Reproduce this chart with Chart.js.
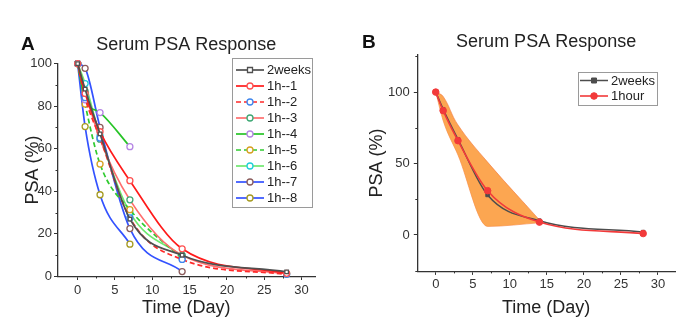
<!DOCTYPE html>
<html><head><meta charset="utf-8">
<script src="https://cdn.jsdelivr.net/npm/chart.js@4.4.1/dist/chart.umd.min.js"></script>
<style>
html,body{margin:0;padding:0;background:#fff;width:700px;height:333px;overflow:hidden}
#wrapA{position:absolute;left:0;top:0;width:350px;height:333px}
#wrapB{position:absolute;left:350px;top:0;width:350px;height:333px}
.panel{position:absolute;font:bold 19px "Liberation Sans",Arial,sans-serif;color:#111;line-height:19px}
</style></head><body>
<div id="wrapA"><canvas id="cA" width="350" height="333"></canvas></div>
<div id="wrapB"><canvas id="cB" width="350" height="333"></canvas></div>
<div class="panel" style="left:21px;top:34px">A</div>
<div class="panel" style="left:362px;top:32px">B</div>
<script>
// ---------- Panel A data ----------
const daysA    = [0, 1, 3, 7, 14, 28];
const psa2weeks = [100, 88, 67, 27, 10, 2.2];
const psa1h1   = [100, 86, 68, 45, 13, 1.5];
const psa1h2   = [100, 84, 65, 27.5, 8, 1];
const psa1h3   = [100, 87, 64.5, 36, 10, 1.3];
const days1h4  = [0, 1, 3, 7];
const psa1h4   = [100, 83, 77, 61];
const days1h5  = [0, 1, 3, 7, 14];
const psa1h5   = [100, 81, 52.8, 31.4, 8.4];
const days1h6  = [0, 1, 3, 7, 14];
const psa1h6   = [100, 90.6, 66, 30, 9.5];
const days1h7  = [0, 1, 3, 7, 14];
const psa1h7   = [100, 97.8, 70, 22.5, 2.3];
const days1h8  = [0, 1, 3, 7];
const psa1h8   = [100, 70.4, 38.4, 15.2];

// ---------- Panel B data ----------
const daysB      = [0, 1, 3, 7, 14, 28];
const mean2weeks = [100, 88, 67, 28, 10, 2];
const mean1hour  = [100, 87, 66, 31, 9, 1];
const bandDays   = [0, 1, 3, 7, 14];
const bandUpper  = [100, 97, 77, 51, 10.5];
const bandLower  = [100, 80, 56, 6, 8.5];

// ---------- ticks ----------
const xTickLabels = [0, 5, 10, 15, 20, 25, 30];
const xMinorTicks = [2.5, 7.5, 12.5, 17.5, 22.5, 27.5];
const yTickLabelsA = [0, 20, 40, 60, 80, 100];
const yMinorTicksA = [10, 30, 50, 70, 90];
const yTickLabelsB = [0, 50, 100];
const yMinorTicksB = [-25, 25, 75, 125];

const pts = (xs, ys) => xs.map((x, i) => ({x: x, y: ys[i]}));

Chart.defaults.font.family = '"Liberation Sans", Arial, sans-serif';
Chart.defaults.color = '#333';

function drawMarker(ctx, style, x, y, r) {
  ctx.beginPath();
  if (style === 'rect') { ctx.rect(x - r, y - r, 2 * r, 2 * r); }
  else { ctx.arc(x, y, r, 0, Math.PI * 2); }
  ctx.fill(); ctx.stroke();
}

const boxLegend = {
  id: 'boxLegend',
  afterDraw(chart, args, o) {
    const ctx = chart.ctx;
    ctx.save();
    ctx.fillStyle = '#fff';
    ctx.fillRect(o.x, o.y, o.w, o.h);
    ctx.strokeStyle = '#9a9a9a'; ctx.lineWidth = 1;
    ctx.strokeRect(o.x + 0.5, o.y + 0.5, o.w, o.h);
    const items = chart.data.datasets.filter(d => !d.hideInLegend);
    items.forEach((ds, i) => {
      const cy = o.firstY + i * o.rowH;
      ctx.setLineDash(ds.borderDash || []);
      ctx.strokeStyle = ds.borderColor; ctx.lineWidth = ds.borderWidth;
      ctx.beginPath(); ctx.moveTo(o.lx0, cy); ctx.lineTo(o.lx1, cy); ctx.stroke();
      ctx.setLineDash([]);
      ctx.fillStyle = ds.pointBackgroundColor; ctx.strokeStyle = ds.pointBorderColor;
      ctx.lineWidth = ds.pointBorderWidth;
      drawMarker(ctx, ds.pointStyle, (o.lx0 + o.lx1) / 2, cy, ds.pointRadius);
      ctx.fillStyle = '#222'; ctx.font = o.font; ctx.textBaseline = 'middle'; ctx.textAlign = 'left';
      ctx.fillText(ds.label, o.tx, cy + 0.5);
    });
    ctx.restore();
  }
};

// short minor tick marks on the axes
const minorTicks = {
  id: 'minorTicks',
  afterDraw(chart, args, o) {
    const ctx = chart.ctx, ca = chart.chartArea;
    const xs = chart.scales.x, ys = chart.scales.y;
    ctx.save(); ctx.strokeStyle = '#333'; ctx.lineWidth = 1;
    o.x.forEach(v => {
      const p = Math.round(xs.getPixelForValue(v)) + 0.5;
      ctx.beginPath(); ctx.moveTo(p, ca.bottom); ctx.lineTo(p, ca.bottom + o.len); ctx.stroke();
    });
    o.y.forEach(v => {
      const p = Math.round(ys.getPixelForValue(v)) + 0.5;
      ctx.beginPath(); ctx.moveTo(ca.left, p); ctx.lineTo(ca.left - o.len, p); ctx.stroke();
    });
    ctx.restore();
  }
};

function tickBuilder(majors) {
  return axis => { axis.ticks = majors.map(v => ({value: v})); };
}

function lineDs(label, xs, ys, line, marker, dash, style) {
  return {
    label: label, data: pts(xs, ys), borderColor: line, borderWidth: 1.7,
    borderDash: dash || [], pointStyle: style || 'circle', pointRadius: style === 'rect' ? 2.5 : 3,
    pointBorderWidth: 1.3, pointBorderColor: marker, pointBackgroundColor: '#fff',
    cubicInterpolationMode: 'monotone', fill: false, clip: false
  };
}

new Chart(document.getElementById('cA'), {
  type: 'line',
  data: {
    datasets: [
      lineDs('2weeks', daysA, psa2weeks, '#505050', '#505050', null, 'rect'),
      lineDs('1h--1', daysA, psa1h1, '#FF1A1A', '#FF5050'),
      lineDs('1h--2', daysA, psa1h2, '#FF2A2A', '#3F86EE', [5, 3]),
      lineDs('1h--3', daysA, psa1h3, '#FF6E6E', '#3DA874'),
      lineDs('1h--4', days1h4, psa1h4, '#27C427', '#B585E4'),
      lineDs('1h--5', days1h5, psa1h5, '#2FCB2F', '#D6A020', [5, 3]),
      lineDs('1h--6', days1h6, psa1h6, '#6FE86F', '#1FCFD8'),
      lineDs('1h--7', days1h7, psa1h7, '#3352FF', '#8A5C5C'),
      lineDs('1h--8', days1h8, psa1h8, '#3352FF', '#A69B22')
    ]
  },
  options: {
    responsive: false, animation: false, devicePixelRatio: 1,
    layout: {padding: {left: 22, top: 34, right: 35, bottom: 14}},
    plugins: {
      legend: {display: false}, tooltip: {enabled: false},
      title: {display: true, text: 'Serum PSA Response', fullSize: false,
              font: {size: 18, weight: 'normal'}, color: '#222', padding: {top: 0, bottom: 8}},
      boxLegend: {x: 232, y: 58, w: 80, h: 149, firstY: 70, rowH: 16, lx0: 236, lx1: 264, tx: 267, font: '13px "Liberation Sans", Arial, sans-serif'},
      minorTicks: {x: xMinorTicks, y: yMinorTicksA, len: 2}
    },
    scales: {
      x: {
        type: 'linear', min: -2.7, max: 31.8,
        afterBuildTicks: tickBuilder(xTickLabels),
        afterFit: s => { s.height = 42.5; },
        ticks: {autoSkip: false, maxRotation: 0, font: {size: 13}, color: '#333', padding: 2.5},
        grid: {drawOnChartArea: false, drawTicks: true, tickLength: 3.5, color: '#333', tickWidth: 1},
        border: {color: '#333', width: 1.3},
        title: {display: true, text: 'Time (Day)', font: {size: 18}, color: '#222', padding: 0}
      },
      y: {
        type: 'linear', min: 0, max: 100,
        afterBuildTicks: tickBuilder(yTickLabelsA),
        afterFit: s => { s.width = 35.5; },
        ticks: {autoSkip: false, font: {size: 13}, color: '#333', padding: 2},
        grid: {drawOnChartArea: false, drawTicks: true, tickLength: 3.5, color: '#333', tickWidth: 1},
        border: {color: '#333', width: 1.3},
        title: {display: true, text: 'PSA (%)', font: {size: 18}, color: '#222', padding: 0}
      }
    }
  },
  plugins: [boxLegend, minorTicks]
});

new Chart(document.getElementById('cB'), {
  type: 'line',
  data: {
    datasets: [
      {label: 'band upper', hideInLegend: true, data: pts(bandDays, bandUpper),
       borderColor: 'rgba(240,110,50,0.7)', borderWidth: 0.8, backgroundColor: 'rgba(252,150,50,0.85)',
       fill: '+1', pointRadius: 0, tension: 0.4, order: 2},
      {label: 'band lower', hideInLegend: true, data: pts(bandDays, bandLower),
       borderColor: 'rgba(240,110,50,0.7)', borderWidth: 0.8, fill: false, pointRadius: 0,
       cubicInterpolationMode: 'monotone', order: 2},
      {label: '2weeks', data: pts(daysB, mean2weeks), borderColor: '#4D4D4D', borderWidth: 1.5,
       pointStyle: 'rect', pointRadius: 2.5, pointBorderWidth: 1, pointBorderColor: '#4D4D4D', pointBackgroundColor: '#4D4D4D',
       cubicInterpolationMode: 'monotone', fill: false, order: 1, clip: false},
      {label: '1hour', data: pts(daysB, mean1hour), borderColor: '#F23A3A', borderWidth: 1.6,
       pointStyle: 'circle', pointRadius: 3.3, pointBorderWidth: 1, pointBorderColor: '#F23A3A', pointBackgroundColor: '#F23A3A',
       cubicInterpolationMode: 'monotone', fill: false, order: 0, clip: false}
    ]
  },
  options: {
    responsive: false, animation: false, devicePixelRatio: 1,
    layout: {padding: {left: 16, top: 31, right: 25, bottom: 14}},
    plugins: {
      legend: {display: false}, tooltip: {enabled: false},
      title: {display: true, text: 'Serum PSA Response', fullSize: false,
              font: {size: 18, weight: 'normal'}, color: '#222', padding: {top: 0, bottom: 2.2}},
      boxLegend: {x: 228, y: 72, w: 79, h: 33, firstY: 80.5, rowH: 15.5, lx0: 230, lx1: 258, tx: 261, font: '13px "Liberation Sans", Arial, sans-serif'},
      minorTicks: {x: xMinorTicks, y: yMinorTicksB, len: 2}
    },
    scales: {
      x: {
        type: 'linear', min: -2.49, max: 32.3,
        afterBuildTicks: tickBuilder(xTickLabels),
        afterFit: s => { s.height = 47.6; },
        ticks: {autoSkip: false, maxRotation: 0, font: {size: 13}, color: '#333', padding: 1.5},
        grid: {drawOnChartArea: false, drawTicks: true, tickLength: 3.5, color: '#333', tickWidth: 1},
        border: {color: '#333', width: 1.3},
        title: {display: true, text: 'Time (Day)', font: {size: 18}, color: '#222', padding: 0}
      },
      y: {
        type: 'linear', min: -25.5, max: 126.1,
        afterBuildTicks: tickBuilder(yTickLabelsB),
        afterFit: s => { s.width = 51.3; },
        ticks: {autoSkip: false, font: {size: 13}, color: '#333', padding: 4},
        grid: {drawOnChartArea: false, drawTicks: true, tickLength: 3.5, color: '#333', tickWidth: 1},
        border: {color: '#333', width: 1.3},
        title: {display: true, text: 'PSA (%)', font: {size: 18}, color: '#222', padding: 0}
      }
    }
  },
  plugins: [boxLegend, minorTicks]
});
</script>
</body></html>
